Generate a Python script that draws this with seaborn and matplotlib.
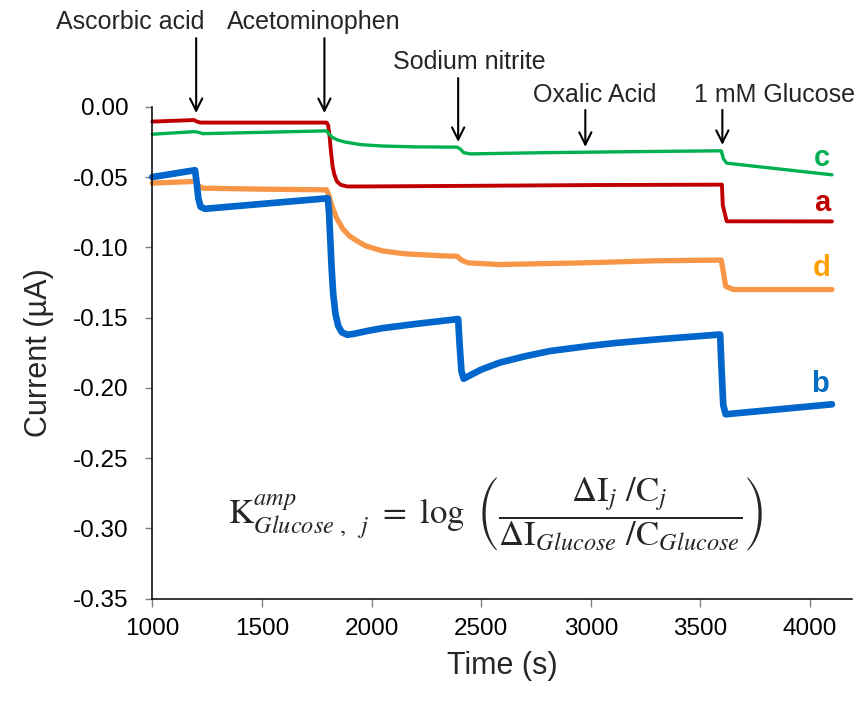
import numpy as np
import pandas as pd
import matplotlib
matplotlib.use('Agg')
import matplotlib.pyplot as plt
import seaborn as sns

# time (s) and current (uA)
t_a = [1000, 1190, 1205, 1220, 1795, 1802, 1808, 1815, 1822, 1830, 1842, 1860, 1890, 1950,
       2400, 3000, 3598, 3602, 3620, 4100]
cur_a = [-0.0104, -0.0093, -0.0105, -0.0111, -0.0111, -0.0130, -0.0200, -0.0320, -0.0420, -0.0480,
         -0.0530, -0.0555, -0.0566, -0.0566, -0.0562, -0.0556, -0.0553, -0.0700, -0.0814, -0.0815]

t_b = [1000, 1195, 1203, 1210, 1220, 1240, 1800, 1806, 1812, 1818, 1825, 1835, 1848, 1865, 1890,
       1920, 1980, 2050, 2200, 2395, 2402, 2410, 2420, 2450, 2500, 2585, 2700, 2813, 3000, 3117,
       3300, 3590, 3596, 3604, 3615, 4100]
cur_b = [-0.0499, -0.0450, -0.0550, -0.0650, -0.0710, -0.0725, -0.0650, -0.0750, -0.0950, -0.1150,
         -0.1330, -0.1470, -0.1560, -0.1605, -0.1622, -0.1615, -0.1595, -0.1575, -0.1545, -0.1510,
         -0.1700, -0.1880, -0.1935, -0.1910, -0.1870, -0.1820, -0.1775, -0.1738, -0.1700, -0.1680,
         -0.1655, -0.1620, -0.1850, -0.2120, -0.2188, -0.2117]

t_c = [1000, 1190, 1205, 1230, 1795, 1805, 1820, 1845, 1880, 1950, 2050, 2200, 2390, 2405, 2420,
       2450, 2800, 3200, 3595, 3605, 3620, 4100]
cur_c = [-0.0194, -0.0176, -0.0178, -0.0190, -0.0170, -0.0190, -0.0215, -0.0235, -0.0250, -0.0268,
         -0.0278, -0.0284, -0.0286, -0.0300, -0.0325, -0.0334, -0.0325, -0.0318, -0.0312, -0.0370,
         -0.0400, -0.0483]

t_d = [1000, 1195, 1210, 1230, 1500, 1795, 1805, 1820, 1840, 1870, 1900, 1940, 1975, 2050, 2150,
       2300, 2390, 2410, 2440, 2580, 2960, 3300, 3595, 3605, 3615, 3650, 4100]
cur_d = [-0.0542, -0.0530, -0.0560, -0.0578, -0.0585, -0.0590, -0.0630, -0.0710, -0.0790, -0.0870,
         -0.0920, -0.0960, -0.0990, -0.1025, -0.1045, -0.1058, -0.1063, -0.1090, -0.1110, -0.1122,
         -0.1110, -0.1095, -0.1090, -0.1180, -0.1276, -0.1300, -0.1300]

# injections: label, arrow time
inj_labels = ['Ascorbic acid', 'Acetominophen', 'Sodium nitrite', 'Oxalic Acid', '1 mM Glucose']
inj_times = [1200, 1785, 2395, 2975, 3600]

sns.set_theme(style='white')
plt.rcParams['font.family'] = ['Liberation Sans', 'DejaVu Sans']
plt.rcParams['mathtext.fontset'] = 'stix'

fig = plt.figure(figsize=(8.61, 7.02), dpi=100)
ax = fig.add_axes([0.1769, 0.1474, 0.8123, 0.7002])

series = [
    (t_a, cur_a, '#C00000', 2.8),
    (t_c, cur_c, '#00B050', 2.4),
    (t_d, cur_d, '#F79646', 3.8),
    (t_b, cur_b, '#0066CC', 4.8),
]
for t, y, col, lw in series:
    df = pd.DataFrame({'t': t, 'y': y})
    sns.lineplot(data=df, x='t', y='y', color=col, linewidth=lw, estimator=None,
                 sort=False, ax=ax, clip_on=False, solid_joinstyle='round')

ax.set_xlim(1000, 4190)
ax.set_ylim(-0.35, 0.0)
yt = np.arange(-0.35, 0.001, 0.05)
ax.set_xticks(np.arange(1000, 4001, 500))
ax.set_yticks(yt)
ax.set_yticklabels([f'{v:.2f}' if abs(v) > 1e-9 else '0.00' for v in yt])
ax.tick_params(axis='both', labelsize=17.5, colors='#808080', labelcolor='black',
               direction='out', width=1)
ax.tick_params(axis='x', length=6, pad=8)
ax.tick_params(axis='y', length=5, pad=12)
ax.tick_params(bottom=True, left=True)
for s in ['top', 'right']:
    ax.spines[s].set_visible(False)
for s in ['left', 'bottom']:
    ax.spines[s].set_color('black')
    ax.spines[s].set_linewidth(1.1)

ax.set_xlabel('Time (s)', fontsize=22, labelpad=8)
ax.set_ylabel('Current (\u00b5A)', fontsize=22, labelpad=14)

# injection arrows and labels
text_pos = [(899, 0.0604), (1737, 0.0604), (2444, 0.0320), (3019, 0.0085), (3840, 0.0085)]
arrow_from = [0.049, 0.049, 0.0206, -0.0021, -0.0021]
arrow_to = [-0.0043, -0.0043, -0.0249, -0.0284, -0.0270]
for lab, tx, (xt, yt_), y0, y1 in zip(inj_labels, inj_times, text_pos, arrow_from, arrow_to):
    ax.text(xt, yt_, lab, fontsize=18, ha='center', va='center', clip_on=False)
    ax.annotate('', xy=(tx, y1), xytext=(tx, y0), annotation_clip=False,
                arrowprops=dict(arrowstyle='->', color='black', lw=1.5,
                                mutation_scale=22, shrinkA=0, shrinkB=0))

# curve letters
for lab, xl, yl, col in [('c', 4054, -0.0363, '#00B050'), ('a', 4054, -0.0683, '#C00000'),
                         ('d', 4054, -0.1145, '#FFA000'), ('b', 4044, -0.1970, '#0070C0')]:
    ax.text(xl, yl, lab, fontsize=21, fontweight='bold', color=col, ha='center',
            va='center', clip_on=False)

formula = (r'$\mathrm{K}_{Glucose\ ,\ \ j}^{amp}\ =\ \log\ \left(\dfrac{\Delta\mathrm{I}_{j}\ /\mathrm{C}_{j}}'
           r'{\Delta\mathrm{I}_{Glucose}\ /\mathrm{C}_{Glucose}}\right)$')
ax.text(2567, -0.290, formula, fontsize=25, ha='center', va='center')

fig.savefig('out.png', dpi=100)
